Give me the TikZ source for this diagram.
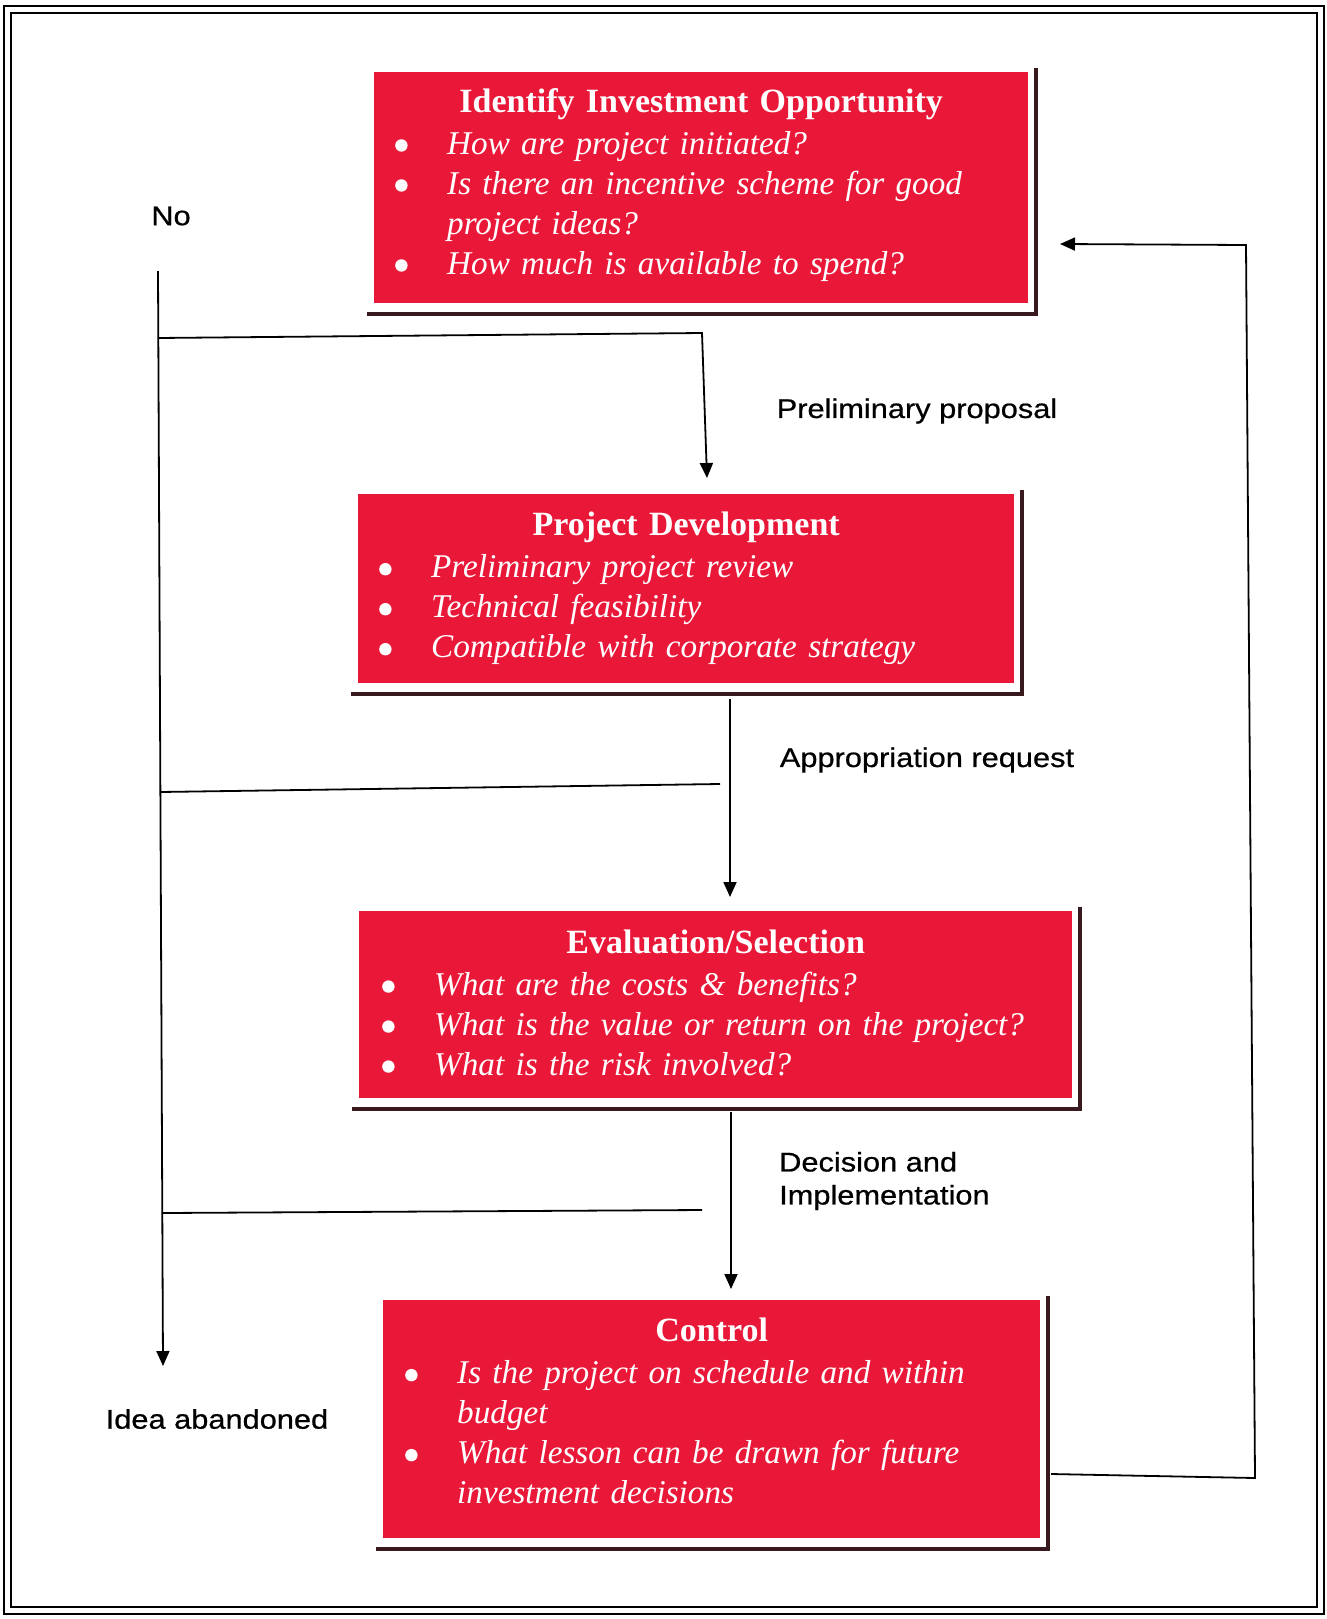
\documentclass[tikz,border=0pt]{standalone}
\usepackage{fontspec}
\setmainfont{Liberation Serif}
\newfontfamily\labfont[FakeStretch=1.14,FakeBold=0.7]{Liberation Sans}
\usetikzlibrary{arrows.meta,calc}
\definecolor{boxred}{RGB}{233,24,56}
\definecolor{shadecol}{RGB}{55,25,30}
\newcommand{\btitle}[1]{{\centering\bfseries #1\par}\vspace{2pt}}
\newcommand{\bdot}{\hspace*{-6pt}\raisebox{2.5pt}{\tikz\fill[white] (0pt,0pt) circle (6.2pt);}}
\newcommand{\bitem}[1]{\makebox[46pt][l]{\bdot}{\fontsize{33.2}{40}\selectfont\itshape #1\par}}
\newcommand{\bcont}[1]{\hspace*{46pt}{\fontsize{33.2}{40}\selectfont\itshape #1\par}}
\begin{document}
\begin{tikzpicture}[x=1pt,y=-1pt,
  redbox/.style={fill=boxred, text=white, inner sep=0pt, anchor=north west, align=left,
                 font=\fontsize{34}{40}\selectfont},
  shadowline/.style={draw=shadecol, line width=4pt},
  conn/.style={draw=black, line width=1.8pt},
  arr/.style={conn, -{Triangle[width=13pt,length=15pt]}},
  lab/.style={font=\labfont\fontsize{27}{33}\selectfont, inner sep=0pt}]

\useasboundingbox (0,0) rectangle (1327,1619);
\draw[line width=2.5pt] (4,6) rectangle (1324,1614);
\draw[line width=2pt] (11,13) rectangle (1317,1607);

% boxes
\node[redbox, minimum width=654pt, minimum height=231pt, text width=600pt] (b1) at (374,72)
  {\btitle{Identify Investment Opportunity}
   \bitem{How are project initiated?}
   \bitem{Is there an incentive scheme for good}
   \bcont{project ideas?}
   \bitem{How much is available to spend?}\vspace{6pt}};
\node[redbox, minimum width=656pt, minimum height=189pt, text width=602pt] (b2) at (358,494)
  {\btitle{Project Development}
   \bitem{Preliminary project review}
   \bitem{Technical feasibility}
   \bitem{Compatible with corporate strategy}};
\node[redbox, minimum width=713pt, minimum height=187pt, text width=655pt] (b3) at (359,911)
  {\btitle{Evaluation/Selection}
   \bitem{What are the costs \& benefits?}
   \bitem{What is the value or return on the project?}
   \bitem{What is the risk involved?}\vspace{4pt}};
\node[redbox, minimum width=657pt, minimum height=238pt, text width=601pt] (b4) at (383,1300)
  {\btitle{Control}
   \bitem{Is the project on schedule and within}
   \bcont{budget}
   \bitem{What lesson can be drawn for future}
   \bcont{investment decisions}\vspace{16pt}};

% shadow frames
\foreach \b in {b1,b2,b3,b4}{
  \draw[shadowline] ($(\b.south west)+(-7,11)$) -- ($(\b.south east)+(8,11)$) -- ($(\b.north east)+(8,-4)$);
}

% labels
\node[lab] (no) at (171,216) {No};
\node[lab] (pp) at (917,411) {Preliminary proposal};
\node[lab] (ar) at (927,760) {Appropriation request};
\node[lab, align=left, anchor=west] (di) at (779,1181) {Decision and\\Implementation};
\node[lab] (ia) at (217,1419) {Idea abandoned};

% connectors
\coordinate (ltop) at (158,271);
\coordinate (lend) at (163,1366);
\draw[arr] (ltop) -- (lend);

\coordinate (j1) at (158,338);
\coordinate (c1) at (702,333);
\coordinate (t1) at (707,478);
\draw[arr] (j1) -- (c1) -- (t1);

\coordinate (s2) at (730,699);
\coordinate (t2) at (730,897);
\draw[arr] (s2) -- (t2);
\coordinate (j2) at (160,792);
\coordinate (e2) at (720,784);
\draw[conn] (j2) -- (e2);

\coordinate (s3) at (731,1112);
\coordinate (t3) at (731,1289);
\draw[arr] (s3) -- (t3);
\coordinate (j3) at (162,1213);
\coordinate (e3) at (702,1210);
\draw[conn] (j3) -- (e3);

\coordinate (f0) at (1051,1474);
\coordinate (f1) at (1255,1478);
\coordinate (f2) at (1246,245);
\coordinate (f3) at (1060,244);
\draw[arr] (f0) -- (f1) -- (f2) -- (f3);
\end{tikzpicture}
\end{document}
